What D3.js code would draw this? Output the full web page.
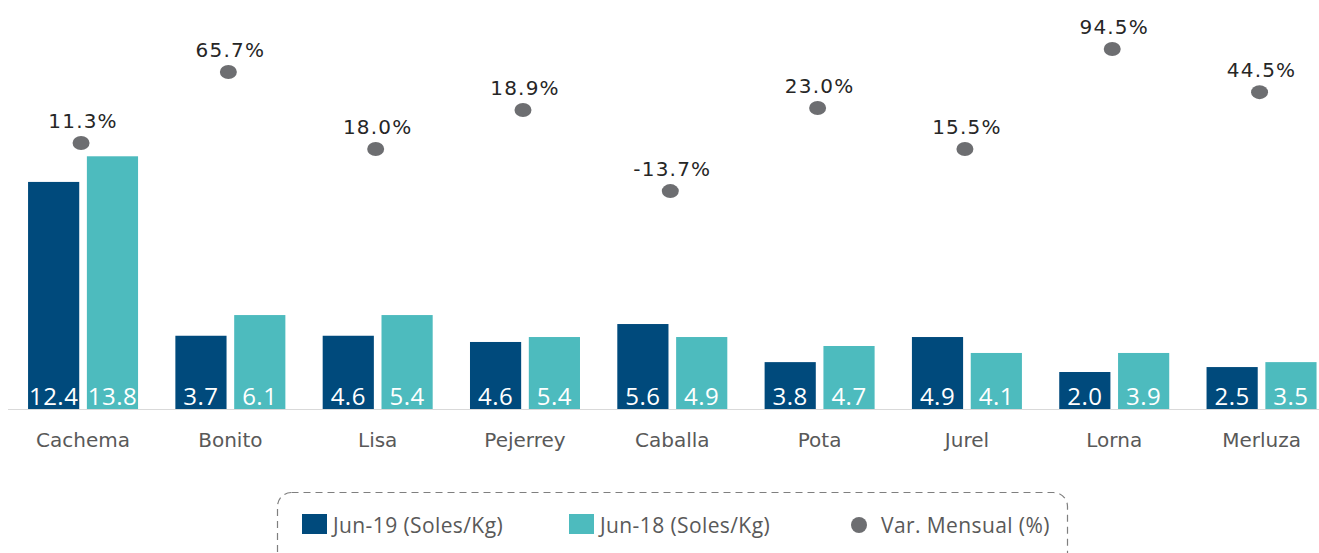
<!DOCTYPE html>
<html>
<head>
<meta charset="utf-8">
<script src="https://cdn.jsdelivr.net/npm/d3@7"></script>
<style>
  html, body { margin: 0; padding: 0; background: #fff; }
  svg { display: block; }
</style>
</head>
<body>
<script>
// categories and series
var categories = ["Cachema", "Bonito", "Lisa", "Pejerrey", "Caballa", "Pota", "Jurel", "Lorna", "Merluza"];
var seriesNames = ["Jun-19 (Soles/Kg)", "Jun-18 (Soles/Kg)"];

// bar heights as drawn (Soles/Kg)
var jun19 = [12.4, 4.0, 4.0, 3.66, 4.64, 2.56, 3.93, 2.02, 2.29];
var jun18 = [13.8, 5.13, 5.13, 3.93, 3.93, 3.44, 3.06, 3.06, 2.56];
// labels printed in the bars
var jun19Labels = ["12.4", "3.7", "4.6", "4.6", "5.6", "3.8", "4.9", "2.0", "2.5"];
var jun18Labels = ["13.8", "6.1", "5.4", "5.4", "4.9", "4.7", "4.1", "3.9", "3.5"];

// monthly variation: dot position on secondary axis, and printed label
var varPlot = [70.2, 88.9, 68.6, 78.9, 57.5, 79.4, 68.6, 95.0, 83.6];
var varLabels = ["11.3%", "65.7%", "18.0%", "18.9%", "-13.7%", "23.0%", "15.5%", "94.5%", "44.5%"];

var colors = ["#004a7c", "#4dbbbe"];
var dotColor = "#6d6e71";

var W = 1319, H = 553;
var baseY = 409;

var svg = d3.select("body").append("svg")
    .attr("width", W)
    .attr("height", H);

// scales
var x0 = d3.scaleBand().domain(categories).range([9.4, 1335.2]);
var x1 = d3.scaleBand().domain(seriesNames).range([-55, 55]).paddingInner(0.13);
var y = d3.scaleLinear().domain([0, 16]).range([baseY, 116]);
var yVar = d3.scaleLinear().domain([0, 100]).range([baseY, 30]);

// baseline
svg.append("line")
    .attr("x1", 8).attr("x2", W)
    .attr("y1", baseY + 0.5).attr("y2", baseY + 0.5)
    .attr("stroke", "#d9d9d9")
    .attr("stroke-width", 1);

var rows = categories.map(function(c, i) {
    return {
        cat: c,
        bars: [
            {s: seriesNames[0], v: jun19[i], label: jun19Labels[i], color: colors[0]},
            {s: seriesNames[1], v: jun18[i], label: jun18Labels[i], color: colors[1]}
        ],
        varV: varPlot[i],
        varLabel: varLabels[i]
    };
});

var group = svg.selectAll(".cat")
    .data(rows)
    .enter()
    .append("g")
        .attr("class", "cat")
        .attr("transform", function(d) {
            return "translate(" + (x0(d.cat) + x0.bandwidth() / 2) + ",0)";
        });

// bars
group.selectAll("rect")
    .data(function(d) { return d.bars; })
    .enter()
    .append("rect")
        .attr("x", function(d) { return x1(d.s); })
        .attr("width", x1.bandwidth())
        .attr("y", function(d) { return y(d.v); })
        .attr("height", function(d) { return baseY - y(d.v); })
        .attr("fill", function(d) { return d.color; });

// bar labels
group.selectAll(".vlabel")
    .data(function(d) { return d.bars; })
    .enter()
    .append("text")
        .attr("class", "vlabel")
        .attr("x", function(d) { return x1(d.s) + x1.bandwidth() / 2; })
        .attr("y", baseY - 4)
        .attr("text-anchor", "middle")
        .attr("fill", "#fff")
        .style("font-family", "'Open Sans'")
        .style("font-size", "24px")
        .style("letter-spacing", "0.5px")
        .text(function(d) { return d.label; });

// category names
group.append("text")
    .attr("y", 447)
    .attr("text-anchor", "middle")
    .attr("fill", "#595959")
    .style("font-family", "DejaVu Sans")
    .style("font-size", "20px")
    .text(function(d) { return d.cat; });

// variation dots
group.append("ellipse")
    .attr("cx", -2)
    .attr("cy", function(d) { return yVar(d.varV); })
    .attr("rx", 8.5)
    .attr("ry", 7)
    .attr("fill", dotColor);

group.append("text")
    .attr("y", function(d) { return yVar(d.varV) - 15; })
    .attr("text-anchor", "middle")
    .attr("fill", "#262626")
    .style("font-family", "DejaVu Sans")
    .style("font-size", "20px")
    .style("letter-spacing", "1.2px")
    .text(function(d) { return d.varLabel; });

// legend
var legend = svg.append("g");
legend.append("rect")
    .attr("x", 277.5).attr("y", 492.5)
    .attr("width", 790).attr("height", 90)
    .attr("rx", 14)
    .attr("fill", "none")
    .attr("stroke", "#7f7f7f")
    .attr("stroke-width", 1.2)
    .attr("stroke-dasharray", "7,5");

var legendItems = [
    {label: seriesNames[0], color: colors[0], x: 302, type: "rect"},
    {label: seriesNames[1], color: colors[1], x: 569, type: "rect"},
    {label: "Var. Mensual (%)", color: dotColor, x: 850, type: "dot"}
];

legendItems.forEach(function(it) {
    if (it.type === "rect") {
        legend.append("rect")
            .attr("x", it.x).attr("y", 514)
            .attr("width", 25).attr("height", 20)
            .attr("fill", it.color);
    } else {
        legend.append("circle")
            .attr("cx", it.x + 9).attr("cy", 525)
            .attr("r", 8)
            .attr("fill", it.color);
    }
    legend.append("text")
        .attr("x", it.type === "rect" ? it.x + 31 : it.x + 31)
        .attr("y", 533)
        .attr("fill", "#595959")
        .style("font-family", "'Open Sans'")
        .style("font-size", "21px")
        .style("letter-spacing", "0.4px")
        .text(it.label);
});
</script>
</body>
</html>
